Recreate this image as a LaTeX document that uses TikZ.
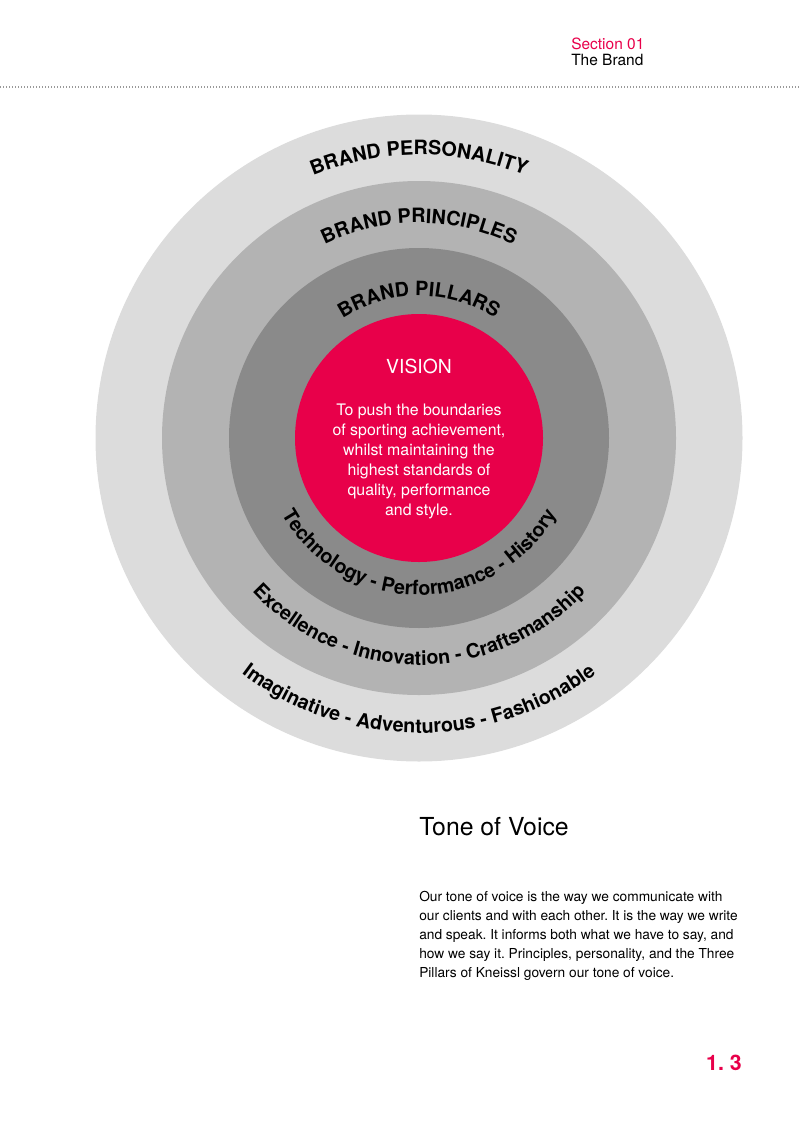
\documentclass[tikz,border=0pt]{standalone}
\usepackage{fontspec}
\setmainfont{TeX Gyre Heros}
\usepackage{xcolor}
\usetikzlibrary{decorations.text, positioning}

\definecolor{kneisslred}{HTML}{E8004A}
\definecolor{ringlight}{HTML}{DCDCDC}
\definecolor{ringmid}{HTML}{B3B3B3}
\definecolor{ringdark}{HTML}{8A8A8A}
\newcommand{\ringfont}{\fontsize{14.8}{15}\bfseries\selectfont}

\begin{document}
\frenchspacing
\begin{tikzpicture}[ x = 0.75pt, y = 0.75pt
                     , ring/.style = { circle
                                     , inner sep = 0pt
                                     , minimum size = #1*1.5pt }
                     , ringtext/.style = { decorate
                                         , decoration = { text along path
                                                        , text align = center
                                                        , text = {|\ringfont|#1} } }
                     , pagetext/.style = { inner sep = 0pt, anchor = west, align = left }
                     ]

  \useasboundingbox (0,0) rectangle (800,-1131);

  % header
  \node (section) [pagetext, text = kneisslred, font = \fontsize{11.6}{13}\selectfont] at (571,-44) {Section 01};
  \node (brand) [pagetext, font = \fontsize{11.6}{13}\selectfont] at (571,-60) {The Brand};
  \coordinate (ruleleft) at (0,-87);
  \coordinate (ruleright) at (800,-87);
  \draw[black!40, line width = 1pt, dash pattern = on 1.1pt off 1.15pt] (ruleleft) -- (ruleright);

  % rings
  \node (personality) [ring = 323.5, fill = ringlight] at (419,-438) {};
  \node (principles) [ring = 257, fill = ringmid] at (personality.center) {};
  \node (pillars) [ring = 190, fill = ringdark] at (personality.center) {};
  \node (vision) [ring = 124, fill = kneisslred] at (personality.center) {};

  % ring labels, top
  \path[ringtext = {BRAND PERSONALITY}] (personality.center) ++(160:283) arc[start angle = 160, end angle = 20, radius = 283];
  \path[ringtext = {BRAND PRINCIPLES}] (personality.center) ++(160:215) arc[start angle = 160, end angle = 20, radius = 215];
  \path[ringtext = {BRAND PILLARS}] (personality.center) ++(160:142) arc[start angle = 160, end angle = 20, radius = 142];

  % ring labels, bottom
  \path[ringtext = {Imaginative - Adventurous - Fashionable}] (personality.center) ++(190:295) arc[start angle = 190, end angle = 350, radius = 295];
  \path[ringtext = {Excellence - Innovation - Craftsmanship}] (personality.center) ++(190:227) arc[start angle = 190, end angle = 350, radius = 227];
  \path[ringtext = {Technology - Performance - History}] (personality.center) ++(190:157) arc[start angle = 190, end angle = 350, radius = 157];

  % vision
  \node (visiontitle) [inner sep = 0pt, text = white, font = \fontsize{14.5}{16}\selectfont] at (419,-366) {VISION};
  \node (visionbody) [inner sep = 0pt, text = white, align = center, font = \fontsize{11.9}{15}\selectfont] at (419,-461.5)
    {To push the boundaries\\of sporting achievement,\\whilst maintaining the\\highest standards of\\quality, performance\\and style.};

  % tone of voice
  \node (tone) [pagetext, font = \fontsize{18.6}{20}\selectfont] at (419,-827) {Tone of Voice};
  \node (tonebody) [pagetext, font = \fontsize{10.3}{14.25}\selectfont] at (419,-936)
    {Our tone of voice is the way we communicate with\\our clients and with each other. It is the way we write\\and speak. It informs both what we have to say, and\\how we say it. Principles, personality, and the Three\\Pillars of Kneissl govern our tone of voice.};

  % page number
  \node (pagenum) [inner sep = 0pt, anchor = east, text = kneisslred, font = \fontsize{16}{18}\bfseries\selectfont] at (742,-1063) {1. 3};

\end{tikzpicture}
\end{document}
